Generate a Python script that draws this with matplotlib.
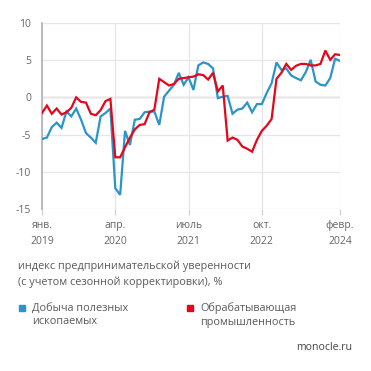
import matplotlib
matplotlib.use("Agg")
import matplotlib.pyplot as plt
from matplotlib.patches import Rectangle

plt.rcParams['font.family'] = ['Open Sans', 'DejaVu Sans']

# monthly values, Jan 2019 .. Feb 2024
mining = [-5.6, -5.4, -4.0, -3.4, -4.1, -1.9, -2.55, -1.5, -3.0, -4.8, -5.4, -6.1,
          -2.55, -2.1, -1.5, -12.2, -13.1, -4.5, -6.4, -3.0, -2.9, -2.0, -1.9, -1.9,
          -3.7, 0.1, 0.9, 1.7, 3.3, 1.7, 2.7, 1.0, 4.3, 4.7, 4.5, 3.9,
          -0.1, 0.1, 0.2, -2.2, -1.65, -1.5, -0.7, -2.0, -0.9, -0.9, 0.6, 1.9,
          4.7, 3.7, 3.9, 2.95, 2.6, 2.3, 3.4, 5.05, 2.15, 1.7, 1.6, 2.6,
          5.2, 4.9]
manuf = [-2.1, -1.1, -2.2, -1.5, -2.3, -2.0, -1.4, 0.0, -0.6, -0.7, -2.2, -2.4,
         -1.7, -0.5, -0.2, -8.05, -8.05, -6.7, -5.4, -4.3, -3.7, -3.6, -2.0, -1.65,
         2.5, 2.05, 1.6, 1.8, 2.5, 2.6, 2.7, 2.8, 3.1, 3.0, 2.4, 3.3,
         0.8, 1.6, -5.8, -5.4, -5.7, -6.6, -6.9, -7.3, -5.7, -4.5, -3.8, -2.9,
         2.5, 3.3, 4.5, 3.7, 4.25, 4.5, 4.5, 4.3, 4.3, 4.5, 6.3, 5.05,
         5.8, 5.7]
tick_pos = [0, 15, 30, 45, 61]
tick_labels = ['янв.\n2019', 'апр.\n2020', 'июль\n2021', 'окт.\n2022', 'февр.\n2024']
y_ticks = [-15, -10, -5, 0, 5, 10]

blue = '#2b94c9'
red = '#e3061c'
grey_txt = '#5a5a5a'
grid_c = '#e6e6e6'

fig = plt.figure(figsize=(3.71, 3.71), dpi=100)
ax = fig.add_axes([42 / 371, 1 - 209 / 371, 298 / 371, 186 / 371])

x = list(range(len(mining)))
ax.plot(x, mining, color=blue, lw=1.6, solid_joinstyle='miter', zorder=3)
ax.plot(x, manuf, color=red, lw=1.6, solid_joinstyle='miter', zorder=4)

ax.set_xlim(0, 61)
ax.set_ylim(-15, 10)
ax.set_xticks(tick_pos)
ax.set_xticklabels(tick_labels, fontsize=7.5, color='#666666', linespacing=1.65)
ax.set_yticks(y_ticks)
ax.set_yticklabels([str(v) for v in y_ticks], fontsize=7.5, color='#666666')

ax.grid(True, color=grid_c, lw=0.9, zorder=0)
ax.axhline(0, color='#a0a0a0', lw=0.9, zorder=1)
for s in ['top', 'right', 'bottom']:
    ax.spines[s].set_visible(False)
ax.spines['left'].set_color('#b5b5b5')
ax.spines['left'].set_linewidth(1.3)
ax.tick_params(axis='y', length=0, pad=8)
ax.tick_params(axis='x', length=4, color='#d0d0d0', width=0.9, pad=4)

fig.text(18 / 371, 1 - 261 / 371, 'индекс предпринимательской уверенности\n(с учетом сезонной корректировки), %',
         fontsize=7.8, color=grey_txt, va='top', linespacing=1.45)

fig.add_artist(Rectangle((19 / 371, 1 - 311 / 371), 6 / 371, 6 / 371,
                         transform=fig.transFigure, color=blue))
fig.text(32 / 371, 1 - 302.5 / 371, 'Добыча полезных\nископаемых', fontsize=7.8,
         color=grey_txt, va='top', linespacing=1.35)
fig.add_artist(Rectangle((187 / 371, 1 - 311 / 371), 6 / 371, 6 / 371,
                         transform=fig.transFigure, color=red))
fig.text(200 / 371, 1 - 302.5 / 371, 'Обрабатывающая\nпромышленность', fontsize=7.8,
         color=grey_txt, va='top', linespacing=1.35)

fig.text(352 / 371, 1 - 347 / 371, 'monocle.ru', fontsize=7.6, color='#444444',
         ha='right', va='center')

fig.savefig('out.png', dpi=100)
